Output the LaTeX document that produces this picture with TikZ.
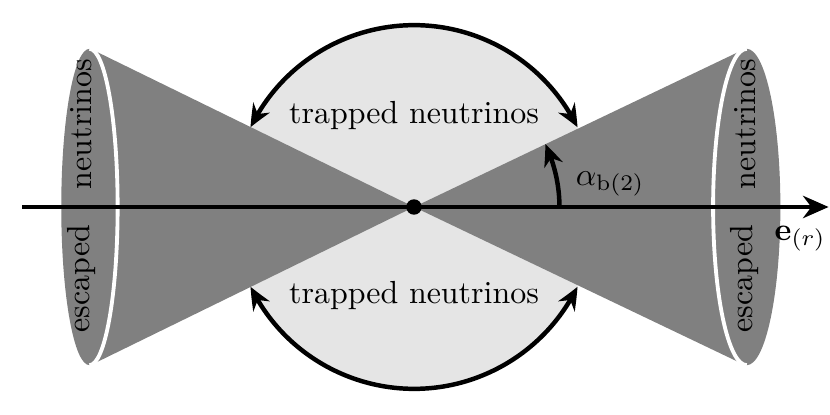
\documentclass[tikz,border=0pt]{standalone}
\usetikzlibrary{arrows.meta,bending,positioning}

\begin{document}
\begin{tikzpicture}[
    every node/.style={font=\normalsize},
    cone/.style={fill=black!50, draw=none},
    rim/.style={draw=white, line width=1.2pt},
    vtext/.style={rotate=90, inner sep=0pt},
    arrow/.style={-{Stealth[length=7pt,width=6pt,bend]}, line width=1.4pt},
    twoway/.style={{Stealth[length=7pt,width=6pt,bend]}-{Stealth[length=7pt,width=6pt,bend]}, line width=1.4pt},
    axis/.style={-{Stealth[length=8pt,width=7pt]}, line width=1.3pt}
]
    \useasboundingbox (-4.554,-2.288) rectangle (4.576,2.277);

    % Trapped region
    \fill[black!10] (0,0) circle[radius=2];

    % Cones and escape caps
    \coordinate (O) at (0,0);
    \coordinate (lt) at (-3.543,1.733);
    \coordinate (lb) at (-3.543,-1.733);
    \coordinate (rt) at (3.623,1.731);
    \coordinate (rb) at (3.623,-1.731);
    \fill[cone] (O) -- (lt) -- (lb) -- cycle;
    \fill[cone] (O) -- (rt) -- (rb) -- cycle;
    \fill[cone] (-3.57,0) ellipse[x radius=0.31, y radius=1.74];
    \fill[cone] (3.66,0) ellipse[x radius=0.37, y radius=1.74];
    \draw[rim] (-3.57,1.74) arc[start angle=90, end angle=-90, x radius=0.31, y radius=1.74];
    \draw[rim] (3.66,1.74) arc[start angle=90, end angle=270, x radius=0.37, y radius=1.74];

    % Axis
    \coordinate (axL) at (-4.31,0);
    \coordinate (axR) at (4.56,0);
    \draw[axis] (axL) -- (axR);
    \node[circle, fill=black, inner sep=0pt, minimum size=0.17cm] (centre) at (O) {};

    % Trapped arcs
    \coordinate (tl) at (154:2);
    \coordinate (bl) at (206:2);
    \draw[twoway] (tl) arc[start angle=154, end angle=26, radius=2];
    \draw[twoway] (bl) arc[start angle=206, end angle=334, radius=2];

    % Opening angle
    \coordinate (a0) at (1.6,0);
    \draw[arrow] (a0) arc[start angle=0, end angle=25.6, radius=1.6];

    % Labels
    \node (trapTop) at (0,1.01) {trapped neutrinos};
    \node (trapBot) at (0,-0.97) {trapped neutrinos};
    \node[vtext, anchor=west] (nuL) at (-3.66,0.19) {neutrinos};
    \node[vtext, anchor=east] (escL) at (-3.66,-0.19) {escaped};
    \node[vtext, anchor=west] (nuR) at (3.64,0.19) {neutrinos};
    \node[vtext, anchor=east] (escR) at (3.64,-0.19) {escaped};
    \node[anchor=base west] (alpha) at (1.655,0.24) {$\alpha_{\mathrm{b}(2)}$};
    \node[anchor=north east, inner sep=1pt] (er) at (4.57,-0.165) {$\mathbf{e}_{(r)}$};
\end{tikzpicture}
\end{document}
